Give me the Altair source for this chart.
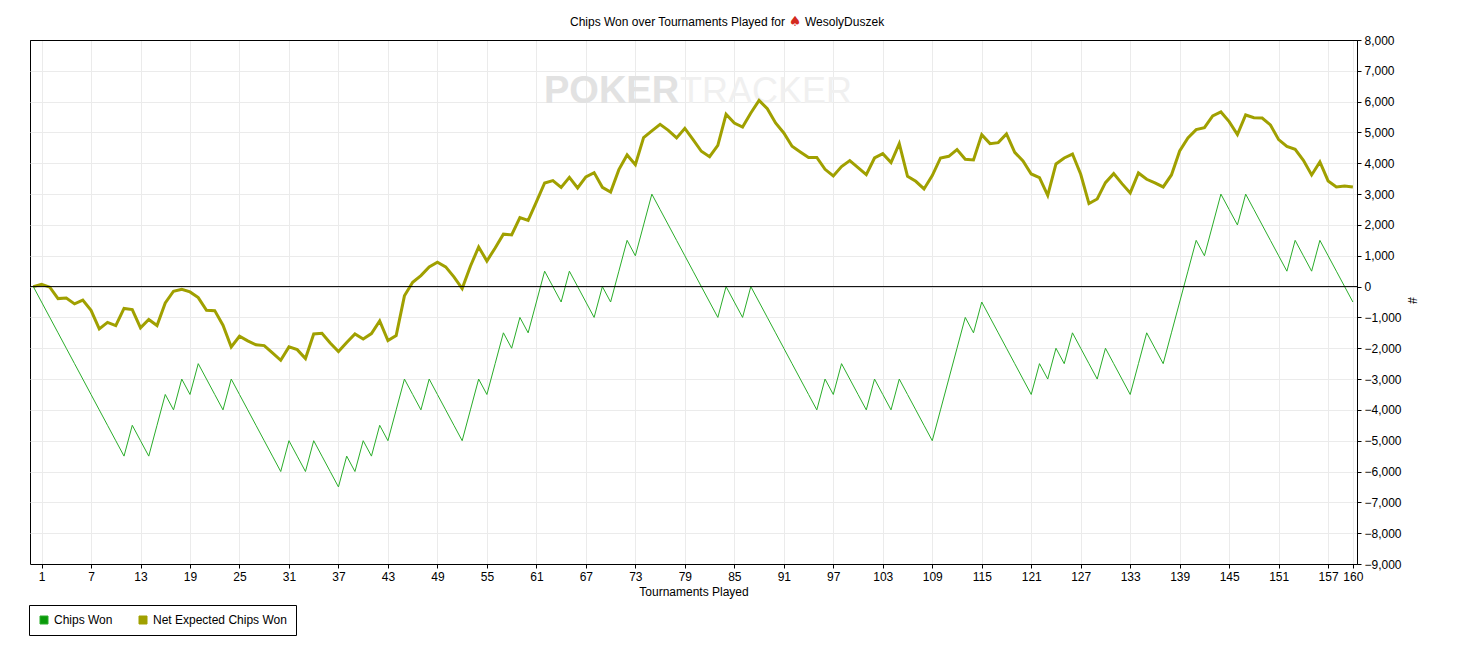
import altair as alt
import pandas as pd

# tournaments 0..160, cumulative values
tournaments = list(range(0, 161))

chips_won = [
    0, -500, -1000, -1500, -2000, -2500, -3000, -3500, -4000, -4500,
    -5000, -5500, -4500, -5000, -5500, -4500, -3500, -4000, -3000, -3500,
    -2500, -3000, -3500, -4000, -3000, -3500, -4000, -4500, -5000, -5500,
    -6000, -5000, -5500, -6000, -5000, -5500, -6000, -6500, -5500, -6000,
    -5000, -5500, -4500, -5000, -4000, -3000, -3500, -4000, -3000, -3500,
    -4000, -4500, -5000, -4000, -3000, -3500, -2500, -1500, -2000, -1000,
    -1500, -500, 500, 0, -500, 500, 0, -500, -1000, 0,
    -500, 500, 1500, 1000, 2000, 3000, 2500, 2000, 1500, 1000,
    500, 0, -500, -1000, 0, -500, -1000, 0, -500, -1000,
    -1500, -2000, -2500, -3000, -3500, -4000, -3000, -3500, -2500, -3000,
    -3500, -4000, -3000, -3500, -4000, -3000, -3500, -4000, -4500, -5000,
    -4000, -3000, -2000, -1000, -1500, -500, -1000, -1500, -2000, -2500,
    -3000, -3500, -2500, -3000, -2000, -2500, -1500, -2000, -2500, -3000,
    -2000, -2500, -3000, -3500, -2500, -1500, -2000, -2500, -1500, -500,
    500, 1500, 1000, 2000, 3000, 2500, 2000, 3000, 2500, 2000,
    1500, 1000, 500, 1500, 1000, 500, 1500, 1000, 500, 0,
    -500,
]

net_expected = [
    0, 75, -20, -390, -370, -560, -440, -770, -1370, -1160,
    -1265, -710, -745, -1340, -1070, -1265, -530, -150, -86, -173,
    -357, -770, -780, -1254, -1957, -1610, -1760, -1890, -1915, -2150,
    -2390, -1957, -2045, -2335, -1535, -1515, -1830, -2110, -1815, -1535,
    -1700, -1525, -1115, -1750, -1590, -300, 140, 357, 640, 790,
    640, 314, -65, 660, 1286, 830, 1254, 1700, 1676, 2238,
    2150, 2746, 3362, 3440, 3220, 3546, 3200, 3557, 3697, 3220,
    3070, 3795, 4270, 3957, 4832, 5050, 5265, 5070, 4822, 5135,
    4768, 4390, 4216, 4584, 5590, 5308, 5178, 5632, 6043, 5773,
    5308, 4984, 4551, 4368, 4190, 4190, 3805, 3590, 3892, 4086,
    3860, 3632, 4173, 4313, 4022, 4638, 3578, 3416, 3168, 3600,
    4173, 4227, 4443, 4130, 4108, 4930, 4638, 4670, 4951, 4357,
    4076, 3654, 3535, 2962, 3978, 4173, 4300, 3643, 2692, 2843,
    3373, 3665, 3340, 3038, 3686, 3481, 3362, 3232, 3622, 4400,
    4822, 5092, 5157, 5535, 5665, 5351, 4930, 5568, 5481, 5470,
    5243, 4768, 4551, 4454, 4097, 3622, 4043, 3427, 3232, 3265,
    3232,
]

series_names = ["Chips Won", "Net Expected Chips Won"]
line_colors = ["#2aad2a", "#a0a000"]
legend_fills = ["#0a9a0a", "#a0a000"]

x_ticks = [1, 7, 13, 19, 25, 31, 37, 43, 49, 55, 61, 67, 73, 79, 85, 91,
           97, 103, 109, 115, 121, 127, 133, 139, 145, 151, 157, 160]
y_ticks = [-9000, -8000, -7000, -6000, -5000, -4000, -3000, -2000, -1000,
           0, 1000, 2000, 3000, 4000, 5000, 6000, 7000, 8000]

title_parts = ["Chips Won over Tournaments Played for", "\u2660", "WesolyDuszek"]
watermark_parts = ["POKER", "TRACKER"]

FONT = "Liberation Sans"
GRID = "#ebebeb"

df = pd.DataFrame({
    "Tournament": tournaments * 2,
    "Chips": chips_won + net_expected,
    "Series": [series_names[0]] * len(chips_won) + [series_names[1]] * len(net_expected),
})

x_enc = alt.X(
    "Tournament:Q",
    scale=alt.Scale(domain=[-0.4, 160.5], nice=False, zero=False),
    axis=alt.Axis(values=x_ticks, title="Tournaments Played", labelFlush=False,
                  labelOverlap=False, labelPadding=3, titlePadding=4),
)
y_enc = alt.Y(
    "Chips:Q",
    scale=alt.Scale(domain=[-9000, 8000], nice=False, zero=False),
    axis=alt.Axis(orient="right", values=y_ticks, format=",.0f", title="#",
                  labelOverlap=False, labelFlush=False, labelPadding=3,
                  labelSeparation=0, tickCount=18,
                  # keep the top edge of the frame black
                  gridColor={"condition": {"test": "datum.value === %d" % y_ticks[-1],
                                           "value": "black"}, "value": GRID},
                  titleAngle=90, titleX=54, titleY=260,
                  titleAlign="center", titleBaseline="middle"),
)
line_color = alt.Color(
    "Series:N", scale=alt.Scale(domain=series_names, range=line_colors), legend=None
)

base = alt.Chart(df)

expected_line = base.transform_filter(
    alt.datum.Series == series_names[1]
).mark_line(strokeWidth=3).encode(x=x_enc, y=y_enc, color=line_color)

won_line = base.transform_filter(
    alt.datum.Series == series_names[0]
).mark_line(strokeWidth=1).encode(x=x_enc, y=y_enc, color=line_color)

# invisible squares that only carry the boxed legend
legend_layer = base.mark_square(
    opacity=0, size=1, stroke="black", strokeWidth=1
).encode(
    x=x_enc, y=y_enc,
    fill=alt.Fill(
        "Series:N",
        scale=alt.Scale(domain=series_names, range=legend_fills),
        legend=alt.Legend(
            title=None, orient="none", legendX=-1, legendY=565, direction="horizontal",
            symbolType="square", symbolSize=64, symbolStrokeColor="black",
            symbolStrokeWidth=1, symbolOpacity=1, labelFont=FONT, labelFontSize=12,
            labelColor="black", labelOffset=4, columnPadding=24, padding=9,
            strokeColor="black", fillColor="white", cornerRadius=0,
        ),
    ),
)

zero_rule = alt.Chart(pd.DataFrame({"Chips": [0]})).mark_rule(
    color="black", strokeWidth=1
).encode(y=y_enc)

# faint watermark
one = pd.DataFrame({"t": [0]})
wm_poker = alt.Chart(one).mark_text(
    text=watermark_parts[0], font=FONT, fontSize=38, fontWeight="bold",
    color="#e2e2e2", align="left", baseline="alphabetic"
).encode(x=alt.value(514), y=alt.value(63))
wm_tracker = alt.Chart(one).mark_text(
    text=watermark_parts[1], font=FONT, fontSize=36, color="#f0f0f0",
    align="left", baseline="alphabetic"
).encode(x=alt.value(650), y=alt.value(63))

# title with red spade icon
t_left = alt.Chart(one).mark_text(
    text=title_parts[0], font=FONT, fontSize=12, color="black",
    align="right", baseline="middle"
).encode(x=alt.value(755), y=alt.value(-18))
t_icon = alt.Chart(one).mark_text(
    text=title_parts[1], font="DejaVu Sans", fontSize=14, color="#d42a1e",
    align="center", baseline="middle"
).encode(x=alt.value(765), y=alt.value(-18))
t_right = alt.Chart(one).mark_text(
    text=title_parts[2], font=FONT, fontSize=12, color="black",
    align="left", baseline="middle"
).encode(x=alt.value(775), y=alt.value(-18))

chart = alt.layer(
    wm_poker, wm_tracker, legend_layer, expected_line, won_line, zero_rule,
    t_left, t_icon, t_right
).properties(
    width=1327, height=524,
    padding={"left": 22, "top": 32, "right": 70, "bottom": 78},
    autosize=alt.AutoSizeParams(type="none"),
    background="white",
).configure_view(
    stroke="black", strokeWidth=1
).configure_axis(
    grid=True, gridColor=GRID, gridWidth=1,
    domainColor="black", tickColor="black", tickSize=4,
    labelFont=FONT, labelFontSize=12, labelColor="black",
    titleFont=FONT, titleFontSize=12, titleFontWeight="normal", titleColor="black",
    labelOverlap=False,
)

chart.save("out.html", embed_options={"renderer": "svg", "actions": False})
